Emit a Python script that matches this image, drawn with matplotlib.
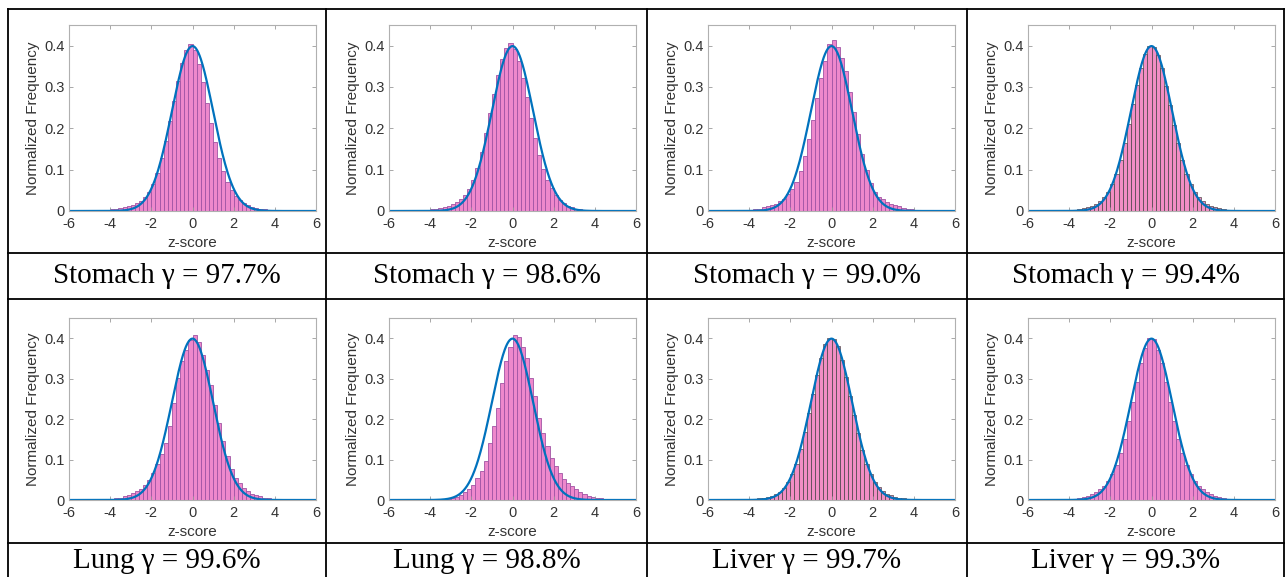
import numpy as np
import matplotlib
matplotlib.use("Agg")
import matplotlib.pyplot as plt
from matplotlib.lines import Line2D

plt.rcParams["axes.unicode_minus"] = False

# histogram bins (z-score), width 0.2, from -4.4 to 4.4
bin_edges = np.round(np.arange(-4.4, 4.41, 0.2), 1)

captions = ["Stomach γ = 97.7%", "Stomach γ = 98.6%", "Stomach γ = 99.0%", "Stomach γ = 99.4%",
            "Lung γ = 99.6%", "Lung γ = 98.8%", "Liver γ = 99.7%", "Liver γ = 99.3%"]

# bar heights, one value per bin (left to right)
stomach_977 = [0.002, 0.003, 0.004, 0.005, 0.007, 0.009, 0.012, 0.015, 0.019, 0.025, 0.033,
               0.046, 0.066, 0.093, 0.128, 0.170, 0.217, 0.267, 0.315, 0.357, 0.390, 0.405,
               0.390, 0.355, 0.312, 0.262, 0.212, 0.167, 0.128, 0.096, 0.070, 0.051, 0.037,
               0.027, 0.020, 0.014, 0.010, 0.007, 0.005, 0.004, 0.003, 0.002, 0.0015, 0.001]
stomach_986 = [0.002, 0.003, 0.004, 0.005, 0.007, 0.009, 0.012, 0.016, 0.021, 0.028, 0.038,
               0.053, 0.075, 0.105, 0.143, 0.188, 0.236, 0.284, 0.330, 0.368, 0.395, 0.406,
               0.392, 0.362, 0.322, 0.275, 0.225, 0.176, 0.135, 0.102, 0.076, 0.055, 0.039,
               0.027, 0.019, 0.013, 0.009, 0.006, 0.004, 0.003, 0.002, 0.0015, 0.001, 0.0005]
stomach_990 = [0.001, 0.002, 0.003, 0.004, 0.006, 0.009, 0.012, 0.015, 0.018, 0.024, 0.030,
               0.040, 0.053, 0.071, 0.096, 0.133, 0.174, 0.219, 0.273, 0.322, 0.363, 0.403,
               0.414, 0.396, 0.371, 0.339, 0.289, 0.240, 0.187, 0.137, 0.100, 0.067, 0.047,
               0.035, 0.028, 0.022, 0.018, 0.014, 0.011, 0.008, 0.006, 0.004, 0.003, 0.002]
stomach_994 = [0.0012, 0.0018, 0.0025, 0.0035, 0.005, 0.007, 0.0095, 0.013, 0.018, 0.025, 0.034,
               0.047, 0.065, 0.090, 0.124, 0.165, 0.210, 0.258, 0.305, 0.347, 0.380, 0.400,
               0.397, 0.378, 0.345, 0.303, 0.256, 0.209, 0.164, 0.124, 0.090, 0.065, 0.047,
               0.034, 0.025, 0.018, 0.013, 0.0095, 0.007, 0.005, 0.0035, 0.0025, 0.0018, 0.0012]
lung_996 = [0.001, 0.002, 0.003, 0.004, 0.006, 0.009, 0.013, 0.017, 0.022, 0.026, 0.038,
            0.050, 0.067, 0.088, 0.113, 0.141, 0.183, 0.240, 0.301, 0.343, 0.371, 0.395,
            0.408, 0.391, 0.359, 0.322, 0.285, 0.236, 0.190, 0.145, 0.108, 0.076, 0.055,
            0.041, 0.030, 0.022, 0.016, 0.012, 0.009, 0.006, 0.004, 0.003, 0.002, 0.001]
lung_988 = [0.0005, 0.0005, 0.0005, 0.0008, 0.001, 0.002, 0.003, 0.005, 0.008, 0.012, 0.020,
            0.027, 0.038, 0.055, 0.072, 0.096, 0.141, 0.182, 0.228, 0.289, 0.343, 0.379,
            0.408, 0.403, 0.379, 0.351, 0.301, 0.256, 0.203, 0.166, 0.133, 0.104, 0.084,
            0.067, 0.053, 0.043, 0.034, 0.027, 0.020, 0.015, 0.011, 0.008, 0.006, 0.004]
liver_997 = [0.001, 0.0015, 0.002, 0.003, 0.004, 0.006, 0.008, 0.011, 0.015, 0.021, 0.030,
             0.044, 0.064, 0.090, 0.125, 0.168, 0.214, 0.262, 0.309, 0.352, 0.385, 0.401,
             0.398, 0.380, 0.347, 0.305, 0.258, 0.210, 0.165, 0.124, 0.090, 0.064, 0.045,
             0.032, 0.023, 0.016, 0.012, 0.008, 0.006, 0.004, 0.003, 0.002, 0.0015, 0.001]
liver_993 = [0.001, 0.0017, 0.0025, 0.0035, 0.005, 0.007, 0.010, 0.014, 0.019, 0.026, 0.035,
             0.048, 0.065, 0.087, 0.116, 0.152, 0.195, 0.243, 0.292, 0.338, 0.376, 0.401,
             0.399, 0.372, 0.338, 0.292, 0.243, 0.195, 0.152, 0.116, 0.087, 0.065, 0.048,
             0.035, 0.026, 0.019, 0.014, 0.010, 0.007, 0.005, 0.0035, 0.0025, 0.0017, 0.001]

heights = [stomach_977, stomach_986, stomach_990, stomach_994,
           lung_996, lung_988, liver_997, liver_993]
dark_edges = [False, False, False, True, False, False, True, False]

W, H = 1285, 577
fig = plt.figure(figsize=(W / 100, H / 100), dpi=100)


def px_rect(left, top, right, bottom):
    return [left / W, 1 - bottom / H, (right - left) / W, (bottom - top) / H]


col_left = [69, 389, 708, 1028]
row_box = [(25, 211), (318, 500)]
col_lines = [8, 326, 647, 967, 1284]
row_lines = [9, 253, 299, 543]
caption_y = [276, 561]

zz = np.linspace(-6, 6, 400)
pdf = np.exp(-zz ** 2 / 2) / np.sqrt(2 * np.pi)

for i in range(8):
    r, c = divmod(i, 4)
    top, bottom = row_box[r]
    ax = fig.add_axes(px_rect(col_left[c], top, col_left[c] + 247, bottom))
    if dark_edges[i]:
        face, edge, elw = "#f28ec4", "#3a3a3a", 0.45
    else:
        face, edge, elw = "#ee88cc", "#a054a4", 0.6
    ax.bar(bin_edges[:-1], heights[i], width=0.2, align="edge",
           color=face, edgecolor=edge, linewidth=elw)
    ax.plot(zz, pdf, color="#0072BD", lw=1.6)
    ax.set_xlim(-6, 6)
    ax.set_ylim(0, 0.45)
    ax.set_xticks([-6, -4, -2, 0, 2, 4, 6])
    ax.set_yticks([0, 0.1, 0.2, 0.3, 0.4])
    ax.set_yticklabels(["0", "0.1", "0.2", "0.3", "0.4"])
    ax.tick_params(direction="in", length=3, width=0.6, labelsize=10.5,
                   colors="#9a9a9a", labelcolor="#333333",
                   top=True, right=True)
    ax.tick_params(axis="x", pad=4)
    ax.tick_params(axis="y", pad=3)
    for s in ax.spines.values():
        s.set_color("#b0b0b0")
        s.set_linewidth(0.8)
    ax.set_xlabel("z-score", fontsize=11, color="#333333", labelpad=4,
                  family="Liberation Sans")
    ax.set_ylabel("Normalized Frequency", fontsize=11, color="#333333", labelpad=3,
                  family="Liberation Sans")
    for lab in ax.get_xticklabels() + ax.get_yticklabels():
        lab.set_family("Liberation Sans")
    fig.text(((col_lines[c] + col_lines[c + 1]) / 2) / W, 1 - caption_y[r] / H,
             captions[i], ha="center", va="center", fontsize=21,
             family="Liberation Serif", color="black")

# table grid
for x in col_lines:
    fig.add_artist(Line2D([x / W, x / W], [0, 1 - row_lines[0] / H],
                          color="black", lw=1.3))
for y in row_lines:
    fig.add_artist(Line2D([col_lines[0] / W, col_lines[-1] / W], [1 - y / H, 1 - y / H],
                          color="black", lw=1.3))

fig.savefig("out.png", dpi=100, facecolor="white")
